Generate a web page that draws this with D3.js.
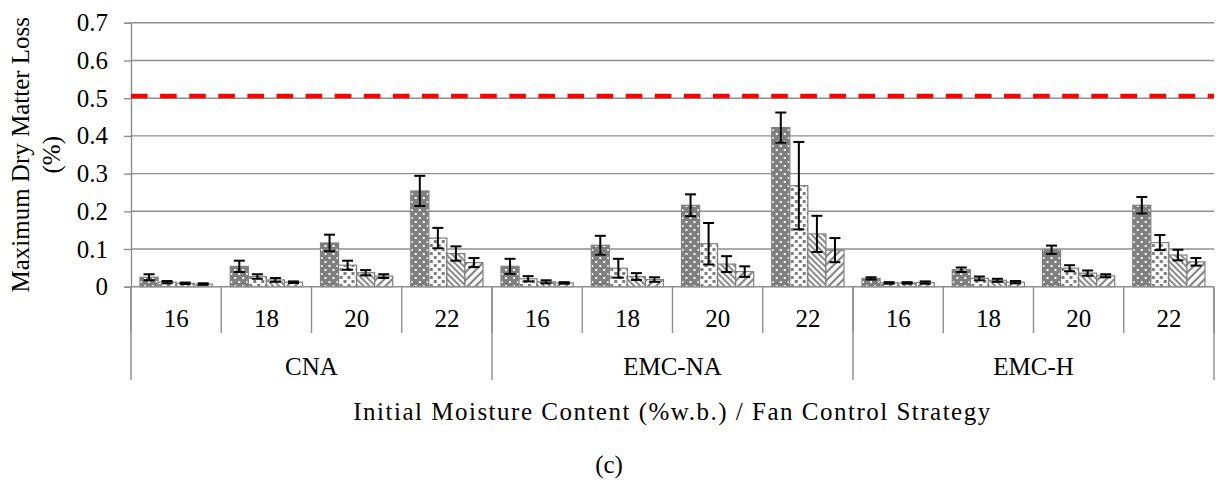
<!DOCTYPE html>
<html>
<head>
<meta charset="utf-8">
<script src="https://cdn.jsdelivr.net/npm/d3@7"></script>
<style>
  html, body { margin: 0; padding: 0; background: #ffffff; }
  svg { display: block; font-family: "Liberation Serif", "Times New Roman", serif; }
  text { font-family: "Liberation Serif", "Times New Roman", serif; fill: #000; }
</style>
</head>
<body>
<svg id="chart" width="1219" height="490"></svg>
<script>
// Initial moisture content levels and fan control strategies
const moistureLevels = ["16", "18", "20", "22"];
const strategies = ["CNA", "EMC-NA", "EMC-H"];
const yTicks = [0, 0.1, 0.2, 0.3, 0.4, 0.5, 0.6, 0.7];
const limitValue = 0.506;

// Maximum dry matter loss (%) for each of the four series, ordered strategy by strategy
const series1 = [0.025, 0.054, 0.116, 0.254, 0.054, 0.110, 0.216, 0.422, 0.022, 0.045, 0.098, 0.216];
const series2 = [0.012, 0.027, 0.057, 0.129, 0.021, 0.049, 0.114, 0.268, 0.010, 0.022, 0.049, 0.117];
const series3 = [0.009, 0.018, 0.037, 0.088, 0.013, 0.027, 0.060, 0.140, 0.010, 0.017, 0.036, 0.084];
const series4 = [0.007, 0.012, 0.028, 0.064, 0.010, 0.019, 0.040, 0.097, 0.011, 0.012, 0.029, 0.066];

// Error bar half-widths
const error1 = [0.008, 0.015, 0.022, 0.040, 0.020, 0.025, 0.029, 0.040, 0.003, 0.006, 0.011, 0.022];
const error2 = [0.003, 0.006, 0.012, 0.027, 0.007, 0.025, 0.055, 0.116, 0.002, 0.005, 0.008, 0.020];
const error3 = [0.002, 0.005, 0.007, 0.019, 0.004, 0.009, 0.021, 0.048, 0.002, 0.004, 0.007, 0.014];
const error4 = [0.002, 0.002, 0.005, 0.012, 0.002, 0.006, 0.014, 0.032, 0.003, 0.003, 0.004, 0.010];

const seriesKeys = ["s1", "s2", "s3", "s4"];
const seriesValues = [series1, series2, series3, series4];
const seriesErrors = [error1, error2, error3, error4];

const groups = [];
strategies.forEach(s => moistureLevels.forEach(m => groups.push(s + "|" + m)));

const rows = groups.map((g, i) => ({
  key: g,
  bars: seriesKeys.map((k, j) => ({ key: k, value: seriesValues[j][i], err: seriesErrors[j][i] }))
}));

const svg = d3.select("#chart");
const plotLeft = 131, plotRight = 1214, plotTop = 22.8, plotBottom = 286.7;
const FONT = 25;
const gridColor = "#8e8e8e";
const serif = "'Liberation Serif', 'Times New Roman', serif";

// Fill patterns for the four series
const defs = svg.append("defs");
function tile(id, w, h, bg) {
  const p = defs.append("pattern").attr("id", id)
    .attr("patternUnits", "userSpaceOnUse").attr("width", w).attr("height", h);
  p.append("rect").attr("width", w).attr("height", h).attr("fill", bg);
  return p;
}
const p1 = tile("pat1", 8, 8, "#7f7f7f");
[[1, 1], [5, 5]].forEach(([px, py]) => p1.append("rect").attr("x", px).attr("y", py).attr("width", 2).attr("height", 2).attr("fill", "#ffffff"));
const p2 = tile("pat2", 8, 8, "#ffffff");
[[0, 0], [4, 4]].forEach(([px, py]) => p2.append("rect").attr("x", px).attr("y", py).attr("width", 3).attr("height", 3).attr("fill", "#7f7f7f"));
const p3 = tile("pat3", 6, 6, "#ffffff");
p3.append("path").attr("d", "M-1,-1L7,7M-1,5L1,7M5,-1L7,1").attr("stroke", "#7f7f7f").attr("stroke-width", 1.9);
const p4 = tile("pat4", 8, 8, "#ffffff");
p4.append("path").attr("d", "M-1,9L9,-1M-1,1L1,-1M7,9L9,7").attr("stroke", "#7f7f7f").attr("stroke-width", 2);
const fills = { s1: "url(#pat1)", s2: "url(#pat2)", s3: "url(#pat3)", s4: "url(#pat4)" };

// Scales
const y = d3.scaleLinear().domain([0, 0.7]).range([plotBottom, plotTop]);
const x0 = d3.scaleBand().domain(groups).range([plotLeft, plotRight]).paddingInner(0).paddingOuter(0);
const x1 = d3.scaleBand().domain(seriesKeys).range([0, x0.bandwidth()]).paddingInner(0).paddingOuter(0.5);
const xs = d3.scaleBand().domain(strategies).range([plotLeft, plotRight]);

// Horizontal gridlines
svg.append("g").selectAll("line").data(yTicks.slice(1)).join("line")
  .attr("x1", plotLeft).attr("x2", plotRight)
  .attr("y1", d => y(d)).attr("y2", d => y(d))
  .attr("stroke", gridColor).attr("stroke-width", 1.4);

// Y axis
const yAxis = svg.append("g").attr("transform", `translate(${plotLeft},0)`)
  .call(d3.axisLeft(y).tickValues(yTicks).tickFormat(d => d === 0 ? "0" : d3.format(".1f")(d)).tickSize(7).tickPadding(16));
yAxis.attr("font-family", serif).attr("font-size", FONT);
yAxis.select(".domain").attr("stroke", gridColor).attr("stroke-width", 1.4);
yAxis.selectAll(".tick line").attr("stroke", gridColor).attr("stroke-width", 1.4);
yAxis.selectAll(".tick text").attr("font-size", FONT).attr("font-family", serif).attr("fill", "#000");

// Bars
const gBars = svg.append("g").selectAll("g").data(rows).join("g")
  .attr("transform", d => `translate(${x0(d.key)},0)`);
gBars.selectAll("rect").data(d => d.bars).join("rect")
  .attr("x", d => x1(d.key))
  .attr("y", d => y(d.value))
  .attr("width", x1.bandwidth())
  .attr("height", d => y(0) - y(d.value))
  .attr("fill", d => fills[d.key])
  .attr("stroke", "#808080").attr("stroke-width", 1.2);

// Error bars
const cap = 5.5;
const eb = gBars.selectAll("g.err").data(d => d.bars).join("g").attr("class", "err")
  .attr("transform", d => `translate(${x1(d.key) + x1.bandwidth() / 2},0)`);
eb.append("line").attr("x1", 0).attr("x2", 0)
  .attr("y1", d => y(d.value + d.err)).attr("y2", d => y(Math.max(0, d.value - d.err)))
  .attr("stroke", "#000").attr("stroke-width", 2);
eb.append("line").attr("x1", -cap).attr("x2", cap)
  .attr("y1", d => y(d.value + d.err)).attr("y2", d => y(d.value + d.err))
  .attr("stroke", "#000").attr("stroke-width", 2);
eb.append("line").attr("x1", -cap).attr("x2", cap)
  .attr("y1", d => y(Math.max(0, d.value - d.err))).attr("y2", d => y(Math.max(0, d.value - d.err)))
  .attr("stroke", "#000").attr("stroke-width", 2);

// Limit line
svg.append("line")
  .attr("x1", plotLeft).attr("x2", plotRight)
  .attr("y1", y(limitValue)).attr("y2", y(limitValue))
  .attr("stroke", "#ff0000").attr("stroke-width", 4.5)
  .attr("stroke-dasharray", "16.6 12.5");

// Category axis line
svg.append("line").attr("x1", plotLeft).attr("x2", plotRight).attr("y1", plotBottom).attr("y2", plotBottom)
  .attr("stroke", gridColor).attr("stroke-width", 1.4);

// Inner separators (moisture level) and outer separators (strategy)
const innerEdges = groups.map(g => x0(g)).concat([plotRight]);
svg.append("g").selectAll("line").data(innerEdges).join("line")
  .attr("x1", d => d).attr("x2", d => d)
  .attr("y1", plotBottom).attr("y2", 333)
  .attr("stroke", gridColor).attr("stroke-width", 1.4);
const outerEdges = strategies.map(s => xs(s)).concat([plotRight]);
svg.append("g").selectAll("line").data(outerEdges).join("line")
  .attr("x1", d => d).attr("x2", d => d)
  .attr("y1", plotBottom).attr("y2", 380)
  .attr("stroke", gridColor).attr("stroke-width", 1.4);

// Category labels
svg.append("g").selectAll("text").data(groups).join("text")
  .attr("x", d => x0(d) + x0.bandwidth() / 2).attr("y", 327)
  .attr("text-anchor", "middle").attr("font-size", FONT)
  .text(d => d.split("|")[1]);
svg.append("g").selectAll("text").data(strategies).join("text")
  .attr("x", d => xs(d) + xs.bandwidth() / 2).attr("y", 375)
  .attr("text-anchor", "middle").attr("font-size", FONT)
  .text(d => d);

// Axis titles
svg.append("text").attr("x", (plotLeft + plotRight) / 2).attr("y", 420)
  .attr("text-anchor", "middle").attr("font-size", FONT)
  .attr("letter-spacing", 1.5)
  .text("Initial Moisture Content (%w.b.) / Fan Control Strategy");

const yTitle = svg.append("text").attr("text-anchor", "middle").attr("font-size", FONT)
  .attr("transform", `translate(0,${(plotTop + plotBottom) / 2}) rotate(-90)`);
yTitle.append("tspan").attr("x", 0).attr("y", 29).text("Maximum Dry Matter Loss");
yTitle.append("tspan").attr("x", 0).attr("y", 60).text("(%)");

svg.append("text").attr("x", 609).attr("y", 473)
  .attr("text-anchor", "middle").attr("font-size", FONT).text("(c)");
</script>
</body>
</html>
